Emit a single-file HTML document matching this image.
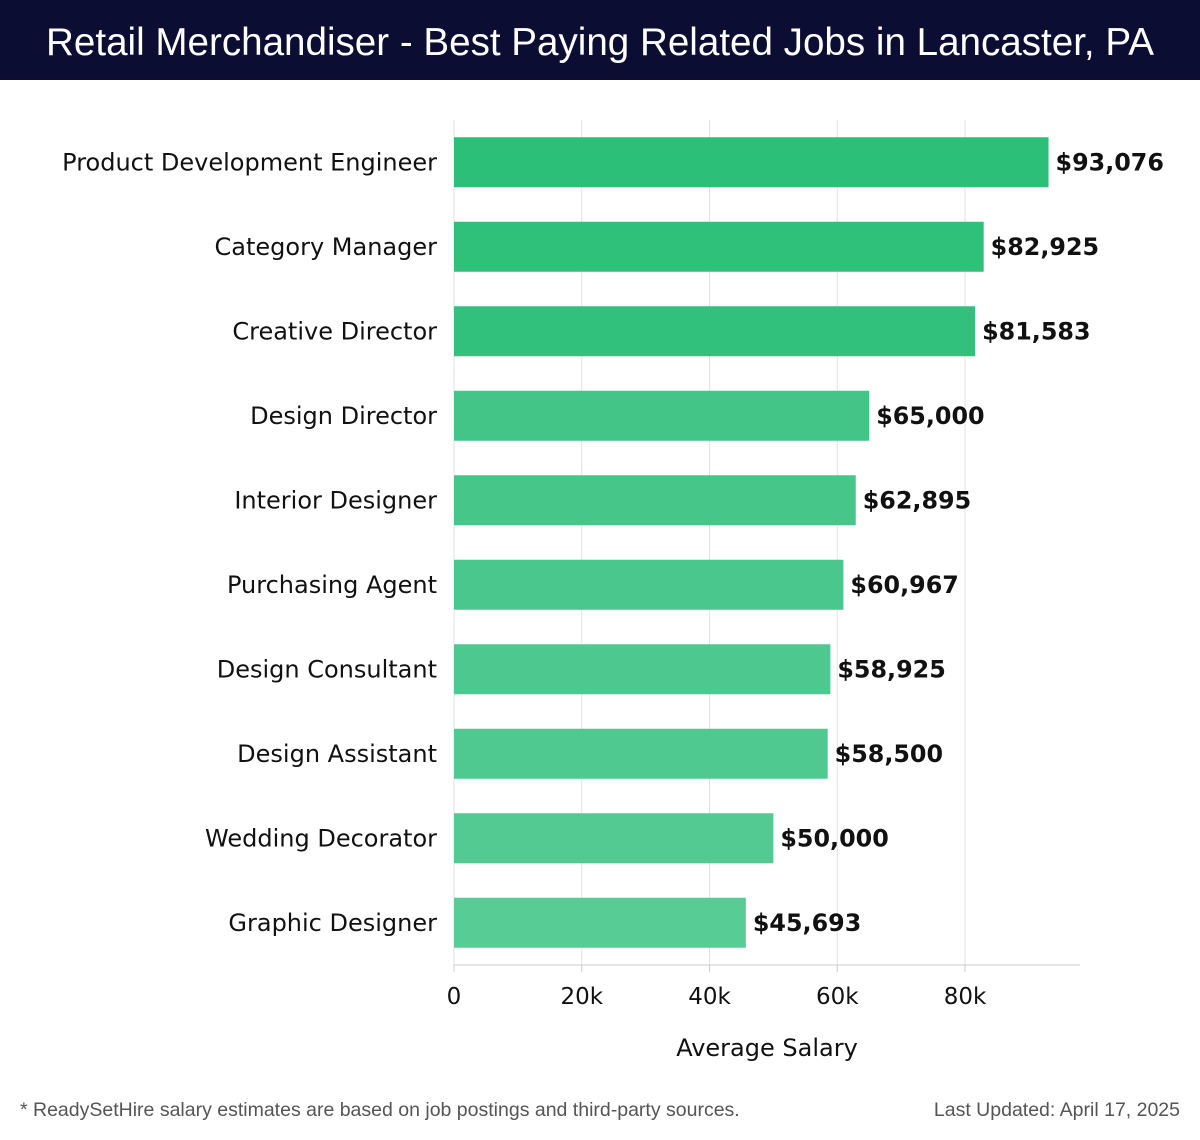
<!DOCTYPE html>
<html><head><meta charset="utf-8"><style>
body{margin:0;width:1200px;height:1140px;background:#fff;font-family:"Liberation Sans","DejaVu Sans",sans-serif;overflow:hidden;position:relative}
#title{position:absolute;left:0;top:0;width:1200px;height:80px;background:#0b0d33;color:#fff;font-size:38.6px;line-height:86px;text-align:center}
.foot{position:absolute;top:1099px;font-size:19.5px;color:#555}
</style></head><body>
<div id="title">Retail Merchandiser - Best Paying Related Jobs in Lancaster, PA</div>
<svg id="chart" width="1200" height="1090" style="position:absolute;left:0;top:0;font-family:'DejaVu Sans',sans-serif"></svg>
<div class="foot" style="left:20px">* ReadySetHire salary estimates are based on job postings and third-party sources.</div>
<div class="foot" style="right:20px">Last Updated: April 17, 2025</div>
<script>
const categories=["Product Development Engineer","Category Manager","Creative Director","Design Director","Interior Designer","Purchasing Agent","Design Consultant","Design Assistant","Wedding Decorator","Graphic Designer"];
const values=[93076,82925,81583,65000,62895,60967,58925,58500,50000,45693];
const ticks=[0,20000,40000,60000,80000];
const tickLabels=["0","20k","40k","60k","80k"];
const colors=["#2bbf78","#2fc07a","#31c17c","#44c588","#47c68a","#4ac78c","#4dc88e","#4fc990","#53ca92","#58cc95"];
const svg=document.getElementById('chart');
const NS="http://www.w3.org/2000/svg";
const x0=454,pxPer=127.75/20000,top0=120,band=84.5,barH=50;
const xs=v=>x0+v*pxPer;
const yc=i=>top0+band*i+band/2;
function mk(t,a,txt){const e=document.createElementNS(NS,t);for(const k in a)e.setAttribute(k,a[k]);if(txt!==undefined)e.textContent=txt;svg.appendChild(e);return e;}
ticks.forEach((t,i)=>{
 const g=mk('line',{x1:xs(t),x2:xs(t),y1:top0,y2:965,stroke:'#e2e2e2','stroke-width':1});
 
 
 const tk=mk('line',{x1:xs(t),x2:xs(t),y1:965,y2:972,stroke:'#ccc'});
 
 
 const l=mk('text',{x:xs(t),y:1004,'text-anchor':'middle','font-size':23,fill:'#111'},tickLabels[i]);
 
 
});
const ax=mk('line',{x1:x0,x2:1080,y1:965,y2:965,stroke:'#ccc'});


const at=mk('text',{x:767,y:1056,'text-anchor':'middle','font-size':24,fill:'#111'},'Average Salary');


categories.forEach((c,i)=>{
 const y=yc(i);
 const r=mk('rect',{x:x0,y:y-barH/2,width:xs(values[i])-x0,height:barH,fill:colors[i]});
 
 
 const lb=mk('text',{x:437,y:y+8,'text-anchor':'end','font-size':24,fill:'#111'},c);
 
 
 const v=mk('text',{x:xs(values[i])+7,y:y+8,'font-size':23.8,'font-weight':'bold',fill:'#111'},'$'+values[i].toLocaleString('en-US'));
 
 
});
</script>
</body></html>
